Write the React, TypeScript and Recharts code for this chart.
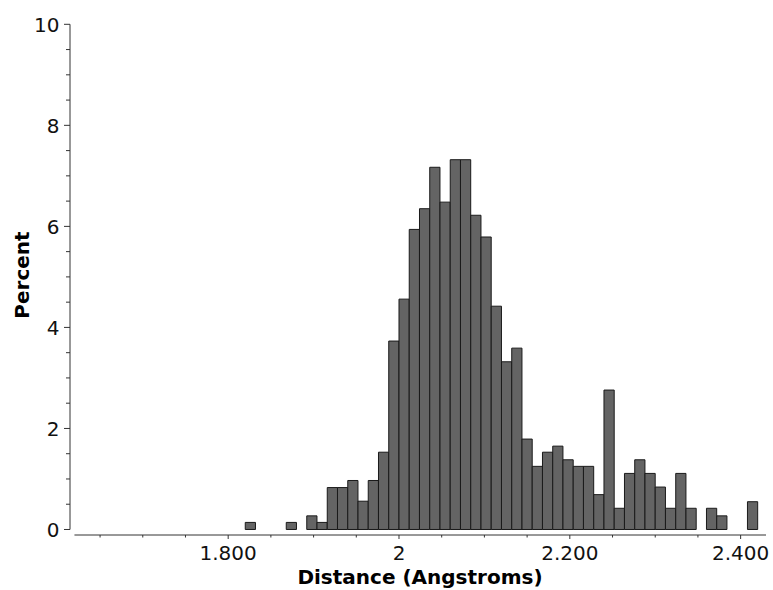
import React from "react";
import { BarChart, Bar, XAxis, YAxis, ReferenceLine } from "recharts";

// Histogram bins (left edge of each bin, Angstroms) and percentage in that bin
const binStarts = [
  1.82, 1.868, 1.892, 1.904, 1.916, 1.928, 1.94, 1.952, 1.964, 1.976, 1.988,
  2.0, 2.012, 2.024, 2.036, 2.048, 2.06, 2.072, 2.084, 2.096, 2.108, 2.12,
  2.132, 2.144, 2.156, 2.168, 2.18, 2.192, 2.204, 2.216, 2.228, 2.24, 2.252,
  2.264, 2.276, 2.288, 2.3, 2.312, 2.324, 2.336, 2.36, 2.372, 2.408,
];
const percents = [
  0.14, 0.14, 0.27, 0.14, 0.83, 0.83, 0.97, 0.56, 0.97, 1.53, 3.73,
  4.56, 5.94, 6.35, 7.17, 6.48, 7.32, 7.32, 6.22, 5.79, 4.42, 3.32,
  3.59, 1.79, 1.25, 1.53, 1.65, 1.38, 1.25, 1.25, 0.69, 2.76, 0.42,
  1.11, 1.38, 1.11, 0.84, 0.42, 1.11, 0.42, 0.42, 0.27, 0.55,
];
const BIN_WIDTH = 0.012;

const xMinorTicks = [
  1.65, 1.7, 1.75, 1.8, 1.85, 1.9, 1.95, 2.0, 2.05, 2.1, 2.15, 2.2, 2.25,
  2.3, 2.35, 2.4,
];
const xMajorTicks = [1.8, 2.0, 2.2, 2.4];
const xTickLabels = ["1.800", "2", "2.200", "2.400"];
const yTicks = [
  0, 0.5, 1, 1.5, 2, 2.5, 3, 3.5, 4, 4.5, 5, 5.5, 6, 6.5, 7, 7.5, 8, 8.5, 9,
  9.5, 10,
];
const yMajorTicks = [0, 2, 4, 6, 8, 10];

const X_MIN = 1.6148;
const X_MAX = 2.4297;
const X_LINE_START = 1.62;
const Y_MIN = -0.109;
const Y_MAX = 10;

const data = binStarts.map((s, i) => ({ x: s + BIN_WIDTH / 2, pct: percents[i] }));

const W = 773;
const H = 590;
const MARGIN = { top: 24.3, right: 7, left: 0, bottom: 0 };
const Y_AXIS_W = 70;
const X_AXIS_H = 55;
const plotWidth = W - MARGIN.left - MARGIN.right - Y_AXIS_W;
// slightly under the bin width so Recharts keeps the exact size (>= band size triggers 90% shrink)
const barPx = (BIN_WIDTH * plotWidth) / (X_MAX - X_MIN) - 0.03;

const FONT = "'DejaVu Sans', sans-serif";
const AXIS_COLOR = "#333";

const near = (a: number, b: number) => Math.abs(a - b) < 1e-6;

const XTick = (props: any) => {
  const { x, y, payload } = props;
  const v = payload.value as number;
  const idx = xMajorTicks.findIndex((m) => near(m, v));
  const major = idx >= 0;
  return (
    <g>
      <line x1={x} x2={x} y1={y} y2={y + (major ? 4 : 2.5)} stroke={AXIS_COLOR} strokeWidth={1} />
      {major && (
        <text x={x} y={y + 24.5} textAnchor="middle" fontFamily={FONT} fontSize={20} fill="#111">
          {xTickLabels[idx]}
        </text>
      )}
    </g>
  );
};

const YTick = (props: any) => {
  const { x, y, payload } = props;
  const v = payload.value as number;
  const major = yMajorTicks.some((m) => near(m, v));
  return (
    <g>
      <line x1={x - (major ? 6 : 4)} x2={x} y1={y} y2={y} stroke={AXIS_COLOR} strokeWidth={1} />
      {major && (
        <text x={x - 10.5} y={y} dy="0.36em" textAnchor="end" fontFamily={FONT} fontSize={20} fill="#111">
          {v}
        </text>
      )}
    </g>
  );
};

const XTitle = (props: any) => {
  const vb = props.viewBox || { x: 70, y: 535, width: 696, height: 55 };
  return (
    <text
      x={vb.x + vb.width / 2 + 2}
      y={vb.y + 48.5}
      textAnchor="middle"
      fontFamily={FONT}
      fontWeight="bold"
      fontSize={20}
      fill="#000"
    >
      Distance (Angstroms)
    </text>
  );
};

const YTitle = () => (
  <text
    x={29}
    y={275}
    transform="rotate(-90, 29, 275)"
    textAnchor="middle"
    fontFamily={FONT}
    fontWeight="bold"
    fontSize={20}
    fill="#000"
  >
    Percent
  </text>
);

export default function App() {
  return (
    <div style={{ position: "absolute", left: 0, top: 0, background: "#fff" }}>
      <BarChart width={W} height={H} data={data} margin={MARGIN} barCategoryGap={0} barGap={0}>
        <XAxis
          dataKey="x"
          type="number"
          domain={[X_MIN, X_MAX]}
          allowDataOverflow
          ticks={xMinorTicks}
          interval={0}
          tick={<XTick />}
          tickLine={false}
          axisLine={false}
          tickSize={0}
          tickMargin={0}
          height={X_AXIS_H}
          label={{ content: <XTitle /> }}
        />
        <YAxis
          type="number"
          domain={[Y_MIN, Y_MAX]}
          allowDataOverflow
          ticks={yTicks}
          interval={0}
          tick={<YTick />}
          tickLine={false}
          axisLine={false}
          tickSize={0}
          tickMargin={0}
          width={Y_AXIS_W}
          label={{ content: <YTitle /> }}
        />
        <ReferenceLine
          segment={[
            { x: X_MIN, y: 0 },
            { x: X_MIN, y: Y_MAX },
          ]}
          stroke={AXIS_COLOR}
          strokeWidth={1}
          ifOverflow="visible"
        />
        <ReferenceLine
          segment={[
            { x: X_LINE_START, y: Y_MIN },
            { x: X_MAX, y: Y_MIN },
          ]}
          stroke={AXIS_COLOR}
          strokeWidth={1}
          ifOverflow="visible"
        />
        <Bar
          dataKey="pct"
          fill="#646464"
          stroke="#1a1a1a"
          strokeWidth={1}
          barSize={barPx}
          isAnimationActive={false}
        />
      </BarChart>
    </div>
  );
}
